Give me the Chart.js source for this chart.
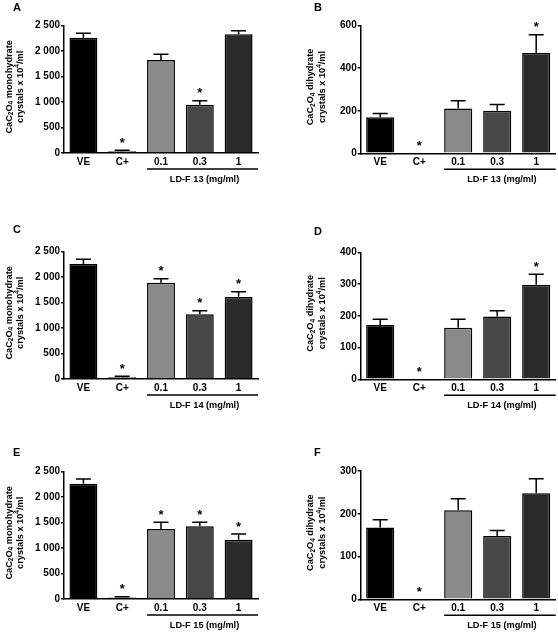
<!DOCTYPE html>
<html><head><meta charset="utf-8">
<script src="https://cdn.jsdelivr.net/npm/chart.js@4.4.1/dist/chart.umd.min.js"></script>
<style>
html,body{margin:0;padding:0;background:#fff;}
#wrap{position:relative;width:558px;height:632px;overflow:hidden;background:#fff;}
canvas{position:absolute;}
.lab{position:absolute;font:bold 11px 'Liberation Sans',Arial,sans-serif;line-height:11px;color:#000;}
</style></head><body><div id="wrap"></div>
<script>
// ---- data ----
const categories = ['VE', 'C+', '0.1', '0.3', '1'];

const monoF13 = [2265, 33, 1828, 946, 2330];
const monoF13Err = [2350, 52, 1939, 1025, 2402];
const monoF13Sig = [false, true, false, true, false];

const diF13 = [169, 0, 211, 200, 472];
const diF13Err = [187, 0, 247, 230, 558];
const diF13Sig = [false, true, false, false, true];

const monoF14 = [2258, 33, 1891, 1270, 1610];
const monoF14Err = [2350, 55, 1970, 1342, 1715];
const monoF14Sig = [false, true, true, true, true];

const diF14 = [171, 0, 162, 198, 298];
const diF14Err = [189, 0, 189, 216, 331];
const diF14Sig = [false, true, false, false, true];

const monoF15 = [2264, 30, 1374, 1427, 1165];
const monoF15Err = [2356, 45, 1505, 1505, 1276];
const monoF15Sig = [false, true, true, true, true];

const diF15 = [168, 0, 208, 148, 248];
const diF15Err = [186, 0, 235, 161, 282];
const diF15Sig = [false, true, false, false, false];

// _x = subscript, ^x = superscript
const monoTitle = ['CaC_2O_4 monohydrate', 'crystals x 10^4/ml'];
const diTitle = ['CaC_2O_4 dihydrate', 'crystals x 10^4/ml'];

// ---- styles / layout ----
const barColors = ['#000000', '#555555', '#8a8a8a', '#474747', '#2b2b2b'];
const FONT = "'Liberation Sans', Arial, sans-serif";
const tickFont = {family: FONT, size: 10, weight: 'bold'};

const panels = [
  {letter:'A', v:monoF13, e:monoF13Err, s:monoF13Sig, ymax:2500, step:500, title:monoTitle, group:'LD-F 13 (mg/ml)',
   x:0, y:0, w:279, h:210, area:{l:64, r:258, t:25.7, b:153}, t1:9, t2:20.5, lx:13, ly:2},
  {letter:'B', v:diF13, e:diF13Err, s:diF13Sig, ymax:600, step:200, title:diTitle, group:'LD-F 13 (mg/ml)',
   x:279, y:0, w:279, h:210, area:{l:81.7, r:276.7, t:25.7, b:153.3}, t1:31.5, t2:43, lx:314, ly:2},
  {letter:'C', v:monoF14, e:monoF14Err, s:monoF14Sig, ymax:2500, step:500, title:monoTitle, group:'LD-F 14 (mg/ml)',
   x:0, y:210, w:279, h:210, area:{l:64, r:258, t:41.7, b:169}, t1:9, t2:20.5, lx:13, ly:224},
  {letter:'D', v:diF14, e:diF14Err, s:diF14Sig, ymax:400, step:100, title:diTitle, group:'LD-F 14 (mg/ml)',
   x:279, y:210, w:279, h:210, area:{l:81.7, r:276.7, t:42.3, b:169.3}, t1:31.5, t2:43, lx:314, ly:225.5},
  {letter:'E', v:monoF15, e:monoF15Err, s:monoF15Sig, ymax:2500, step:500, title:monoTitle, group:'LD-F 15 (mg/ml)',
   x:0, y:420, w:279, h:212, area:{l:64, r:258, t:51.7, b:179}, t1:9, t2:20.5, lx:13, ly:447},
  {letter:'F', v:diF15, e:diF15Err, s:diF15Sig, ymax:300, step:100, title:diTitle, group:'LD-F 15 (mg/ml)',
   x:279, y:420, w:279, h:212, area:{l:81.7, r:276.7, t:51, b:179.3}, t1:31.5, t2:43, lx:314, ly:447}
];

function fmt(v) {
  return String(v).replace(/\B(?=(\d{3})+(?!\d))/g, ' ');
}

// split "CaC_2O_4 x" into segments
function segments(str) {
  const out = [];
  let buf = '';
  for (let i = 0; i < str.length; i++) {
    const ch = str[i];
    if ((ch === '_' || ch === '^') && i + 1 < str.length) {
      if (buf) { out.push({t: buf, k: 0}); buf = ''; }
      out.push({t: str[i + 1], k: ch === '_' ? 1 : -1});
      i++;
    } else buf += ch;
  }
  if (buf) out.push({t: buf, k: 0});
  return out;
}

function drawRich(ctx, str, cx, cy) {
  const segs = segments(str);
  const main = 'bold 9.2px ' + FONT;
  const small = 'bold 6.5px ' + FONT;
  let total = 0;
  segs.forEach(s => { ctx.font = s.k ? small : main; s.w = ctx.measureText(s.t).width; total += s.w; });
  let x = cx - total / 2;
  ctx.textAlign = 'left';
  ctx.textBaseline = 'middle';
  segs.forEach(s => {
    ctx.font = s.k ? small : main;
    const dy = s.k === 1 ? 2.6 : (s.k === -1 ? -3.2 : 0);
    ctx.fillText(s.t, x, cy + dy);
    x += s.w;
  });
}

const annot = {
  id: 'annot',
  afterDraw(chart, args, opts) {
    const p = opts.panel;
    const ctx = chart.ctx;
    const meta = chart.getDatasetMeta(0);
    const ys = chart.scales.y;
    const ca = chart.chartArea;
    ctx.save();
    ctx.strokeStyle = '#000';
    ctx.fillStyle = '#000';
    ctx.lineWidth = 1.5;
    meta.data.forEach((bar, i) => {
      const x = bar.x;
      const y0 = ys.getPixelForValue(p.v[i]);
      const y1 = ys.getPixelForValue(p.e[i]);
      if (p.e[i] > p.v[i]) {
        ctx.beginPath();
        ctx.moveTo(x, y0);
        ctx.lineTo(x, y1);
        ctx.moveTo(x - 7.5, y1);
        ctx.lineTo(x + 7.5, y1);
        ctx.stroke();
      }
      if (p.s[i]) {
        ctx.font = 'bold 13px ' + FONT;
        ctx.textAlign = 'center';
        ctx.textBaseline = 'alphabetic';
        ctx.fillText('*', x, Math.min(y0, y1) - 3.5);
      }
    });
    // bracket under dose groups
    const first = meta.data[2];
    const bx0 = first.x - first.width / 2;
    const bx1 = ca.right;
    const by = ca.bottom + 16;
    ctx.beginPath();
    ctx.moveTo(bx0, by);
    ctx.lineTo(bx1, by);
    ctx.stroke();
    ctx.font = 'bold 9.2px ' + FONT;
    ctx.textAlign = 'center';
    ctx.textBaseline = 'middle';
    ctx.fillText(p.group, (bx0 + bx1) / 2 + 2, ca.bottom + 26.5);
    // rotated y-axis title with sub/superscripts
    const cy = (ca.top + ca.bottom) / 2 - 2.5;
    [p.t1, p.t2].forEach((tx, li) => {
      ctx.save();
      ctx.translate(tx, cy);
      ctx.rotate(-Math.PI / 2);
      drawRich(ctx, p.title[li], 0, 0);
      ctx.restore();
    });
    ctx.restore();
  }
};

const wrap = document.getElementById('wrap');
panels.forEach(p => {
  const c = document.createElement('canvas');
  c.width = p.w; c.height = p.h;
  c.style.left = p.x + 'px'; c.style.top = p.y + 'px';
  c.style.width = p.w + 'px'; c.style.height = p.h + 'px';
  wrap.appendChild(c);
  const lab = document.createElement('div');
  lab.className = 'lab';
  lab.textContent = p.letter;
  lab.style.left = p.lx + 'px'; lab.style.top = p.ly + 'px';
  wrap.appendChild(lab);

  new Chart(c, {
    type: 'bar',
    data: {
      labels: categories,
      datasets: [{
        data: p.v,
        backgroundColor: barColors,
        borderColor: '#000',
        borderWidth: ctx => (ctx.raw > 0 ? 1.5 : 0),
        barPercentage: 0.72,
        categoryPercentage: 1.0
      }]
    },
    options: {
      responsive: false,
      animation: false,
      events: [],
      layout: {padding: {left: 0, right: p.w - p.area.r, top: p.area.t, bottom: 0}},
      plugins: {legend: {display: false}, tooltip: {enabled: false}, annot: {panel: p}},
      scales: {
        x: {
          grid: {display: false, drawTicks: false},
          border: {display: true, color: '#000', width: 1.5},
          ticks: {color: '#000', font: tickFont, padding: 3, maxRotation: 0, autoSkip: false},
          afterFit(s) { s.height = p.h - p.area.b; }
        },
        y: {
          min: 0, max: p.ymax,
          ticks: {stepSize: p.step, color: '#000', font: tickFont, padding: 1, callback: v => fmt(v)},
          grid: {drawOnChartArea: false, drawTicks: true, tickLength: 3, color: '#000', lineWidth: 1.5},
          border: {display: true, color: '#000', width: 1.5},
          title: {display: false},
          afterFit(s) { s.width = p.area.l; }
        }
      }
    },
    plugins: [annot]
  });
});
</script>
</body></html>
